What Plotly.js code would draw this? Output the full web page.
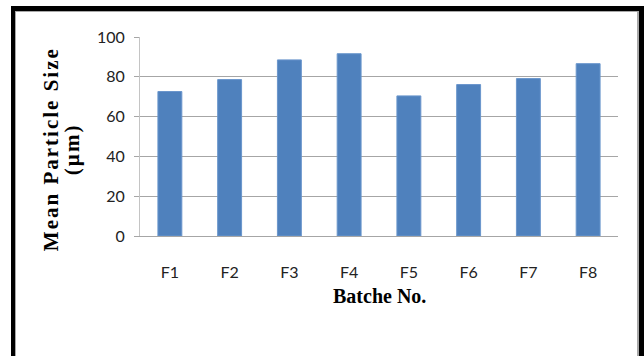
<!DOCTYPE html>
<html>
<head>
<meta charset="utf-8">
<script src="https://cdn.plot.ly/plotly-3.0.1.min.js"></script>
<style>
  html, body { margin: 0; padding: 0; background: #fff; }
  #wrap { position: relative; width: 644px; height: 356px; }
  #chart { width: 644px; height: 356px; }
  #frame {
    position: absolute; left: 11px; top: 6px; width: 633px; height: 350px;
    border-left: 4px solid #000; border-top: 5px solid #000; border-right: 5px solid #000;
    box-sizing: border-box; pointer-events: none;
  }
  #inner {
    position: absolute; left: 15px; top: 11px; width: 624px; height: 345px;
    border-left: 1px solid #a8a8a8; border-top: 1px solid #a8a8a8; border-right: 2px solid #a8a8a8;
    box-sizing: border-box; pointer-events: none;
  }
  g.annotation[data-index="0"] text, g.annotation[data-index="1"] text { letter-spacing: 2px; }
</style>
</head>
<body>
<div id="wrap">
  <div id="chart"></div>
  <div id="frame"></div>
  <div id="inner"></div>
</div>
<script>
const batches = ["F1", "F2", "F3", "F4", "F5", "F6", "F7", "F8"];
const meanParticleSize = [72.6, 78.6, 88.5, 91.6, 70.4, 76.1, 79.1, 86.6];
const yTickValues = [0, 20, 40, 60, 80, 100];
const xTitle = "Batche No.";
const yTitleLine1 = "Mean Particle Size";
const yTitleLine2 = "(µm)";

const tickFont = { family: "Lato, Open Sans, sans-serif", size: 16, color: "#222" };
const xTitleFont = { family: "Liberation Serif, Times New Roman, serif", size: 20, color: "#000", weight: "bold" };
const yTitleFont = { family: "Liberation Serif, Times New Roman, serif", size: 21, color: "#000", weight: "bold" };

const trace = {
  type: "bar",
  x: batches,
  y: meanParticleSize,
  marker: { color: "#4F81BD", line: { color: "#6a96cc", width: 1 } },
  hoverinfo: "none"
};

const layout = {
  width: 644, height: 356,
  margin: { l: 140, r: 26, t: 37, b: 120, pad: 0 },
  paper_bgcolor: "#fff", plot_bgcolor: "#fff",
  showlegend: false,
  bargap: 0.6,
  xaxis: {
    type: "category",
    showgrid: false, zeroline: false,
    showline: true, linecolor: "#a6a6a6", linewidth: 1,
    ticks: "", tickfont: tickFont, ticklabelstandoff: 22
  },
  yaxis: {
    range: [0, 100], tickvals: yTickValues,
    showgrid: true, gridcolor: "#a6a6a6", gridwidth: 1,
    zeroline: false,
    showline: true, linecolor: "#c4c4c4", linewidth: 1,
    ticks: "outside", ticklen: 5, tickcolor: "#a6a6a6",
    tickfont: tickFont, ticklabelstandoff: 6
  },
  annotations: [
    { text: yTitleLine1, xref: "paper", yref: "paper", x: -0.186, y: 0.437, textangle: -90,
      showarrow: false, xanchor: "center", yanchor: "middle", font: yTitleFont },
    { text: yTitleLine2, xref: "paper", yref: "paper", x: -0.142, y: 0.437, textangle: -90,
      showarrow: false, xanchor: "center", yanchor: "middle", font: yTitleFont },
    { text: xTitle, xref: "paper", yref: "paper", x: 0.5, y: -0.30,
      showarrow: false, xanchor: "center", yanchor: "middle", font: xTitleFont }
  ]
};

Plotly.newPlot("chart", [trace], layout, { displayModeBar: false, staticPlot: true });
</script>
</body>
</html>
